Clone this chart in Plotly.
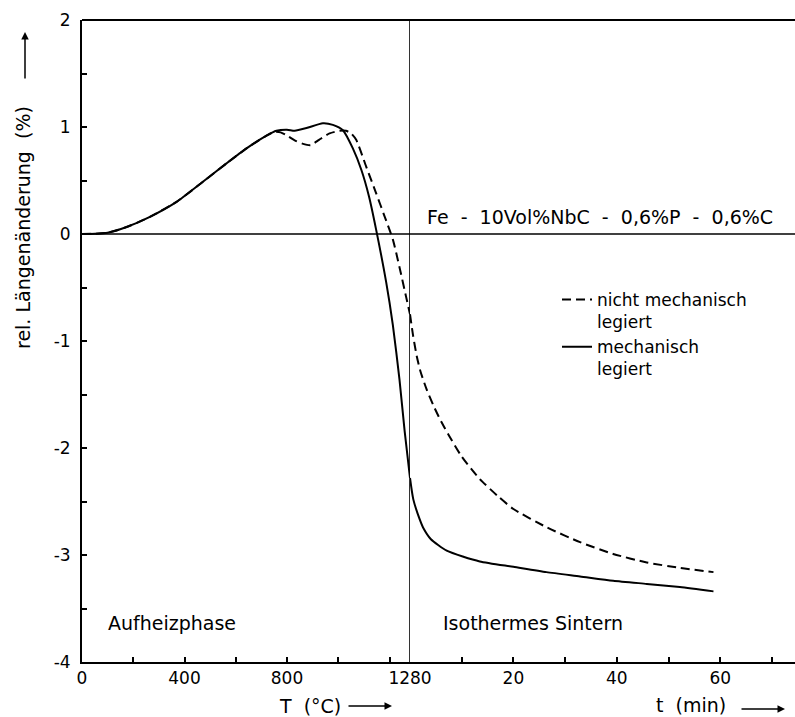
import plotly.graph_objects as go

# ---------------- data ----------------
# heating phase (temperature, °C)
T_mech = [0, 50, 100, 174, 265, 369, 473, 564, 642, 720, 759, 800, 830, 876, 940,
          979, 1018, 1057, 1090, 1120, 1147, 1187, 1213, 1239, 1259, 1280]
y_mech_T = [0, 0.003, 0.012, 0.065, 0.16, 0.30, 0.49, 0.66, 0.80, 0.92, 0.965, 0.975, 0.965, 0.99, 1.035,
            1.02, 0.97, 0.80, 0.60, 0.35, 0.05, -0.45, -0.85, -1.36, -1.84, -2.28]

T_nicht = [0, 50, 100, 174, 265, 369, 473, 564, 642, 720, 750, 775, 800, 830, 860, 892,
           925, 966, 1005, 1030, 1050, 1070, 1109, 1148, 1180, 1213, 1239, 1265, 1280]
y_nicht_T = [0, 0.003, 0.012, 0.065, 0.16, 0.30, 0.49, 0.66, 0.80, 0.92, 0.955, 0.95, 0.92, 0.875, 0.845, 0.83,
             0.88, 0.94, 0.965, 0.965, 0.94, 0.88, 0.63, 0.38, 0.17, -0.05, -0.31, -0.59, -0.75]

# isothermal sintering (time, min)
t_mech = [0, 0.64, 1.9, 2.6, 4, 7.1, 13.5, 20, 26.4, 32.9, 39.3, 45.8, 52.2, 58.7]
y_mech_t = [-2.28, -2.48, -2.67, -2.75, -2.85, -2.96, -3.06, -3.11, -3.16, -3.20, -3.24, -3.27, -3.30, -3.34]

t_nicht = [0, 0.6, 1.3, 2.0, 3.2, 4.5, 6, 7.5, 10, 13.5, 17, 20, 26.4, 32.9, 39.3, 45.8, 52.2, 58.7]
y_nicht_t = [-0.75, -0.95, -1.14, -1.28, -1.45, -1.60, -1.75, -1.88, -2.08, -2.29, -2.45, -2.57, -2.74, -2.88,
             -2.99, -3.07, -3.12, -3.16]

T_ticks = [0, 200, 400, 600, 800, 1000, 1200, 1280]
T_ticktext = ["0", "", "400", "", "800", "", "", "1280"]
t_ticks = [10, 20, 30, 40, 50, 60, 70]
t_ticktext = ["", "20", "", "40", "", "60", ""]
y_ticks = [-4, -3.5, -3, -2.5, -2, -1.5, -1, -0.5, 0, 0.5, 1, 1.5, 2]
y_ticktext = ["-4", "", "-3", "", "-2", "", "-1", "", "0", "", "1", "", "2"]

# ---------------- layout helpers ----------------
W, H = 795, 717
L, R, TOP, B = 82, 0, 20, 55
PW, PH = W - L - R, H - TOP - B


def px(x):
    return (x - L) / PW


def py(y):
    return (H - B - y) / PH


split = px(410)
FONT = "DejaVu Sans"
DASH = "9px,5px"

fig = go.Figure()
fig.add_trace(go.Scatter(x=T_nicht, y=y_nicht_T, mode="lines", xaxis="x", yaxis="y",
                         line=dict(color="black", width=2, dash=DASH, shape="spline", smoothing=0.6),
                         name="nicht mechanisch<br>legiert", legendgroup="n"))
fig.add_trace(go.Scatter(x=T_mech, y=y_mech_T, mode="lines", xaxis="x", yaxis="y",
                         line=dict(color="black", width=2, shape="spline", smoothing=0.6),
                         name="mechanisch<br>legiert", legendgroup="m"))
fig.add_trace(go.Scatter(x=t_nicht, y=y_nicht_t, mode="lines", xaxis="x2", yaxis="y",
                         line=dict(color="black", width=2, dash=DASH, shape="spline", smoothing=0.6),
                         showlegend=False, legendgroup="n"))
fig.add_trace(go.Scatter(x=t_mech, y=y_mech_t, mode="lines", xaxis="x2", yaxis="y",
                         line=dict(color="black", width=2, shape="spline", smoothing=0.6),
                         showlegend=False, legendgroup="m"))

axis_common = dict(showline=True, linecolor="black", linewidth=2, ticks="inside", ticklen=5,
                   tickwidth=1.5, tickcolor="black", showgrid=False, zeroline=False,
                   tickfont=dict(family=FONT, size=17, color="black"))

fig.update_layout(
    width=W, height=H,
    margin=dict(l=L, r=R, t=TOP, b=B, autoexpand=False),
    paper_bgcolor="white", plot_bgcolor="white",
    font=dict(family=FONT, size=18, color="black"),
    xaxis=dict(domain=[0, split], range=[0, 1280], tickmode="array", tickvals=T_ticks,
               ticktext=T_ticktext, anchor="y", **axis_common),
    xaxis2=dict(domain=[split, 1], range=[0, (W - 410) / 5.17], tickmode="array", tickvals=t_ticks,
                ticktext=t_ticktext, anchor="y", **axis_common),
    yaxis=dict(range=[-4, 2], tickmode="array", tickvals=y_ticks, ticktext=y_ticktext,
               ticklabelstandoff=6, **axis_common),
    showlegend=True,
    legend=dict(x=px(557), y=py(282), xanchor="left", yanchor="top", bgcolor="rgba(0,0,0,0)",
                font=dict(family=FONT, size=17, color="black"), valign="top", tracegroupgap=0),
)

# frame lines: top border, zero line, phase boundary at 1280 °C
fig.add_shape(type="line", xref="paper", yref="paper", x0=0, x1=1, y0=1, y1=1,
              line=dict(color="black", width=2))
fig.add_shape(type="line", xref="paper", yref="y", x0=0, x1=1, y0=0, y1=0,
              line=dict(color="black", width=1.6))
fig.add_shape(type="line", xref="x", yref="paper", x0=1280, x1=1280, y0=0, y1=1,
              line=dict(color="black", width=1.6))


def txt(text, x, y, size=19, xanchor="left", angle=0):
    fig.add_annotation(text=text, x=px(x), y=py(y), xref="paper", yref="paper", showarrow=False,
                       xanchor=xanchor, yanchor="middle", textangle=angle,
                       font=dict(family=FONT, size=size, color="black"))


def arrow(x_head, y_head, dx, dy):
    fig.add_annotation(text="", x=px(x_head), y=py(y_head), xref="paper", yref="paper",
                       showarrow=True, ax=dx, ay=dy, arrowhead=2, arrowsize=1, arrowwidth=1.5,
                       arrowcolor="black")


sp = "\u00a0 "
txt(f"Fe{sp}-{sp}10Vol%NbC{sp}-{sp}0,6%P{sp}-{sp}0,6%C", 600, 217, size=19, xanchor="center")
txt("Aufheizphase", 106, 623, size=19)
txt("Isothermes Sintern", 441, 623, size=19)
txt("T  (°C)", 310, 706, size=19, xanchor="center")
txt("t  (min)", 691, 705, size=19, xanchor="center")
txt("rel. Längenänderung  (%)", 23, 228, size=19, xanchor="center", angle=-90)
arrow(392, 706, -45, 0)
arrow(785, 709, -45, 0)
arrow(25, 32, 0, 48)

fig.write_html("out.html")
